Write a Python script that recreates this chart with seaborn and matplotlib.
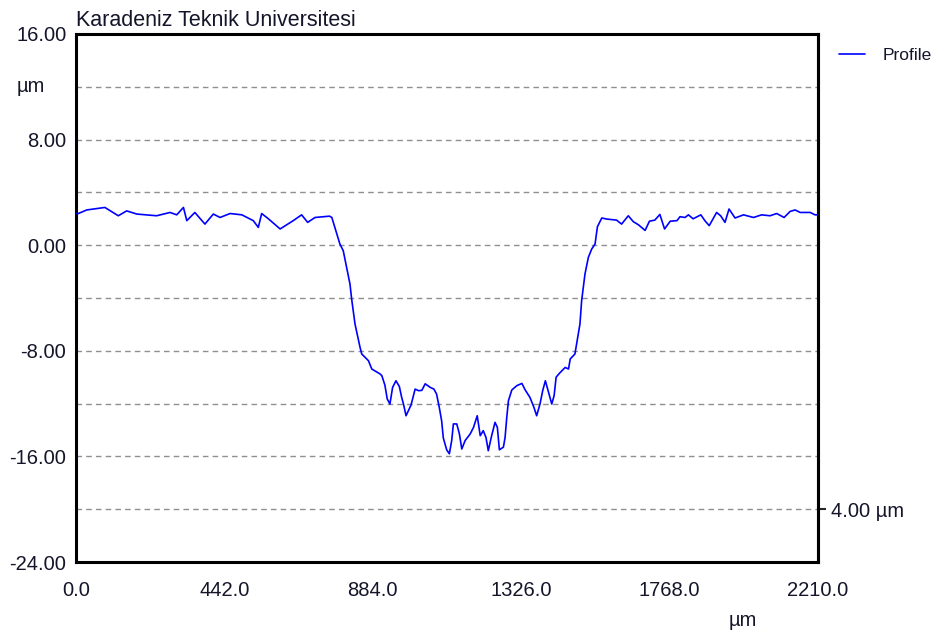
# Surface profile plot (Karadeniz Teknik Universitesi profilometer export)

import numpy as np
import pandas as pd
import seaborn as sns
import matplotlib.pyplot as plt
import matplotlib.transforms as mtransforms

# profile: position along scan (um) and height (um)
pos_um = [0, 7, 32, 86, 126, 151, 181, 240, 280, 300, 320, 330, 354, 384, 409, 429, 459,
          494, 528, 543, 553, 573, 608, 647, 672, 690, 712, 755, 762, 771, 786, 796,
          806, 816, 821, 831, 846, 851, 871, 881, 906, 911, 920, 927, 935, 943, 953,
          963, 970, 976, 983, 990, 998, 1010, 1020, 1030, 1040, 1055, 1066, 1074,
          1082, 1089, 1094, 1104, 1112, 1119, 1124, 1134, 1142, 1149, 1159, 1174,
          1184, 1195, 1204, 1213, 1221, 1228, 1238, 1248, 1255, 1261, 1273, 1278,
          1283, 1288, 1298, 1313, 1328, 1338, 1352, 1364, 1372, 1382, 1390, 1398,
          1407, 1417, 1424, 1430, 1440, 1457, 1467, 1472, 1486, 1491, 1501, 1506,
          1516, 1526, 1536, 1546, 1553, 1566, 1581, 1610, 1625, 1645, 1660, 1675,
          1695, 1708, 1724, 1739, 1753, 1770, 1790, 1799, 1814, 1824, 1838, 1861,
          1873, 1886, 1908, 1920, 1933, 1945, 1963, 1988, 2018, 2042, 2067, 2087,
          2109, 2127, 2142, 2157, 2187, 2201, 2210]
height_um = [2.4, 2.4, 2.67, 2.86, 2.23, 2.6, 2.36, 2.23, 2.48, 2.3, 2.86, 1.86, 2.48, 1.6,
             2.36, 2.1, 2.4, 2.3, 1.86, 1.35, 2.4, 2.0, 1.23, 1.86, 2.3, 1.73, 2.1, 2.2,
             2.1, 1.35, 0.09, -0.42, -1.68, -2.94, -4.08, -5.97, -7.74, -8.24, -8.75,
             -9.38, -9.76, -9.89, -10.6, -11.65, -12.03, -10.77, -10.27, -10.7, -11.53,
             -12.1, -12.92, -12.54, -12.1, -10.9, -11.02, -11.0, -10.5, -10.77, -10.9,
             -11.28, -12.29, -13.3, -14.6, -15.5, -15.8, -14.8, -13.54, -13.54, -14.3,
             -15.44, -14.8, -14.3, -13.8, -12.92, -14.43, -14.05, -14.56, -15.57,
             -14.43, -13.42, -13.8, -15.5, -15.3, -14.56, -13.04, -11.78, -10.97,
             -10.64, -10.47, -10.97, -11.53, -12.29, -12.92, -12.03, -11.02, -10.27,
             -11.1, -12.03, -11.4, -10.0, -9.7, -9.26, -9.38, -8.62, -8.24, -7.48,
             -5.97, -4.2, -2.18, -0.92, -0.29, 0.09, 1.4, 2.06, 1.98, 1.9, 1.6, 2.23,
             1.78, 1.55, 1.12, 1.82, 1.9, 2.33, 1.23, 1.82, 1.86, 2.16, 2.1, 2.3, 2.0,
             2.3, 1.86, 1.48, 2.48, 2.23, 1.73, 2.74, 2.06, 2.3, 2.1, 2.3, 2.23, 2.4,
             2.1, 2.56, 2.67, 2.48, 2.48, 2.3, 2.3]

x_major = [0, 442, 884, 1326, 1768, 2210]
x_minor = [221, 663, 1105, 1547, 1989]
y_major = [-24, -16, -8, 0, 8, 16]
y_minor = [-20, -12, -4, 4, 12]
grid_y = [-20, -16, -12, -8, -4, 0, 4, 8, 12]

sns.set_theme(style='white')
plt.rcParams['font.family'] = ['Liberation Sans', 'DejaVu Sans']

df = pd.DataFrame({'pos': pos_um, 'height': height_um})

fig = plt.figure(figsize=(9.4, 6.42), dpi=100)
ax = fig.add_axes([76 / 940, 1 - 562 / 642, 742 / 940, 528 / 642])

for g in grid_y:
    ax.axhline(g, color='#8f8f8f', lw=1.0, ls=(0, (4, 3)), zorder=0)

sns.lineplot(data=df, x='pos', y='height', ax=ax, color='#0000ff', lw=1.2,
             label='Profile', zorder=3)

ax.set_xlim(0, 2210)
ax.set_ylim(-24, 16)
ax.set_xlabel('')
ax.set_ylabel('')

txt = '#15152a'
fs = 14.5
ax.set_xticks(x_major, [f'{v:.1f}' for v in x_major])
ax.set_xticks(x_minor, minor=True)
ax.set_yticks(y_major, [f'{v:.2f}' for v in y_major])
ax.set_yticks(y_minor, minor=True)
ax.tick_params(which='both', direction='in', color='black', width=1.5,
               labelsize=fs, labelcolor=txt)
ax.tick_params(axis='x', which='both', length=6, pad=14)
ax.tick_params(axis='y', which='both', length=5, pad=7)

for s in ax.spines.values():
    s.set_color('black')
    s.set_linewidth(2.2)

# scale marker on the right side
sec = ax.secondary_yaxis('right')
sec.set_yticks([-20], ['4.00 µm'])
sec.tick_params(direction='out', length=6, width=1.5, labelsize=fs,
                labelcolor=txt, pad=3)
sec.spines['right'].set_linewidth(2.2)

ax.set_title('Karadeniz Teknik Universitesi', loc='left', fontsize=15.5,
             color=txt, pad=6)

trans = mtransforms.blended_transform_factory(ax.transAxes, ax.transData)
ax.text(-0.0795, 12, 'µm', transform=trans, ha='left', va='center',
        fontsize=fs, color=txt)
fig.text(743 / 940, 1 - 620 / 642, 'µm', ha='center', va='center',
         fontsize=fs, color=txt)

ax.legend(loc='upper left', bbox_to_anchor=(1.01, 1.0), frameon=False,
          fontsize=12.5, handlelength=1.5, handletextpad=1.0,
          borderaxespad=0.4, labelcolor=txt)

fig.savefig('out.png', dpi=100)
